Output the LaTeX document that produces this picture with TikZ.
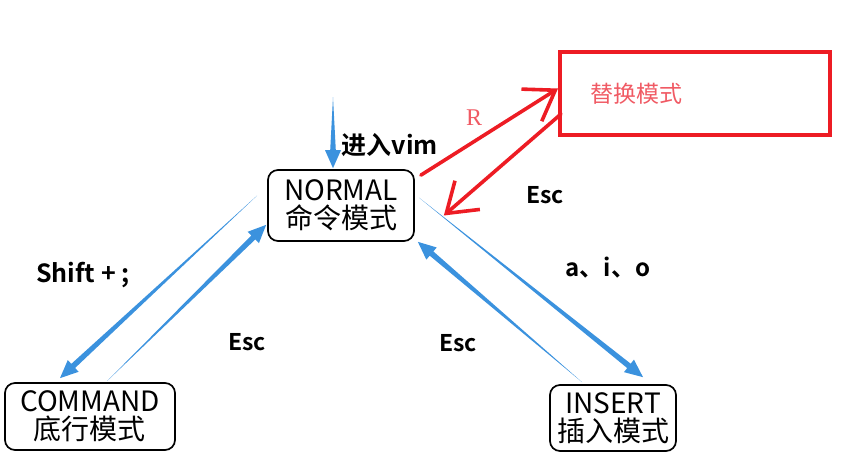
\documentclass[tikz,border=0pt]{standalone}
\usepackage{fontspec}
\setmainfont{Noto Sans CJK SC}[BoldFont={Noto Sans CJK SC Bold}]
\newfontfamily\keyfont{Liberation Serif}
\usepackage{xcolor}
\usetikzlibrary{arrows.meta,positioning,calc}
\tikzset{>=Stealth}
\definecolor{vimblue}{RGB}{59,146,222}
\definecolor{vimred}{RGB}{237,28,36}
\definecolor{softred}{RGB}{240,90,100}

\begin{document}
\begin{tikzpicture}[
    x=1pt, y=-1pt,
    mode/.style={rectangle, draw, line width=1.7pt, rounded corners=10pt,
        align=center, inner sep=2pt, font=\fontsize{28}{28}\selectfont},
    replacebox/.style={rectangle, draw=vimred, line width=4pt, align=left,
        text width=210pt, inner xsep=30pt, minimum width=270pt,
        minimum height=83pt, text=softred, font=\fontsize{23}{25}\selectfont},
    keylabel/.style={font=\fontsize{23}{24}\selectfont\bfseries, inner sep=1pt},
    taper/.style={to path={
        -- ($(\tikztotarget)!18pt!(\tikztostart)!2.8pt!90:(\tikztotarget)$)
        -- ($(\tikztotarget)!18pt!(\tikztostart)!8pt!90:(\tikztotarget)$)
        -- (\tikztotarget)
        -- ($(\tikztotarget)!18pt!(\tikztostart)!8pt!-90:(\tikztotarget)$)
        -- ($(\tikztotarget)!18pt!(\tikztostart)!2.8pt!-90:(\tikztotarget)$)
        -- cycle}},
    redarrow/.style={draw=vimred, line width=3.6pt, line cap=round,
        -{Straight Barb[length=28pt, width=38pt, line width=3.6pt]}}
]
    \useasboundingbox (0,0) rectangle (852,469);

    \node[mode, minimum width=146pt, minimum height=71pt] (normal) at (341,205.5) {NORMAL\\命令模式};
    \node[mode, minimum width=170pt, minimum height=67pt] (command) at (90,416.5) {COMMAND\\底行模式};
    \node[mode, minimum width=126pt, minimum height=66pt] (insert) at (613,418) {INSERT\\插入模式};
    \node[replacebox] (replace) at (695,93.5) {替换模式};

    \node[keylabel, font=\fontsize{25}{26}\selectfont\bfseries] (vimkey) at (390,145) {进入vim};
    \node[keylabel, font=\fontsize{25}{26}\selectfont\bfseries] (shiftkey) at (83,275) {Shift + ;};
    \node[keylabel] (esccmd) at (247,342) {Esc};
    \node[keylabel] (escins) at (458,343) {Esc};
    \node[keylabel, font=\fontsize{24}{26}\selectfont\bfseries] (insertkey) at (608,268) {a、i、o};
    \node[keylabel] (escrep) at (545,195) {Esc};
    \node[text=softred, font=\fontsize{24}{26}\selectfont\keyfont] (rkey) at (474,118) {R};

    \coordinate (vimtail) at ([xshift=-8pt,yshift=72pt]normal.north);
    \coordinate (vimtip) at ([xshift=-8pt,yshift=1pt]normal.north);
    \coordinate (nctail) at ([xshift=-10pt,yshift=10pt]normal.west);
    \coordinate (nctip) at ([xshift=-30pt,yshift=4pt]command.north);
    \coordinate (cntail) at ([xshift=17pt,yshift=1pt]command.north);
    \coordinate (cntip) at ([xshift=-1pt,yshift=17pt]normal.south west);
    \coordinate (nitail) at ([xshift=4pt,yshift=8pt]normal.east);
    \coordinate (nitip) at ([xshift=30pt,yshift=7pt]insert.north);
    \coordinate (intail) at ([xshift=-31pt,yshift=2pt]insert.north);
    \coordinate (intip) at ([xshift=3pt]normal.south east);

    \fill[vimblue] (vimtail) to[taper] (vimtip);
    \fill[vimblue] (nctail) to[taper] (nctip);
    \fill[vimblue] (cntail) to[taper] (cntip);
    \fill[vimblue] (nitail) to[taper] (nitip);
    \fill[vimblue] (intail) to[taper] (intip);

    \draw[redarrow] ([xshift=6pt,yshift=-6pt]normal.north east) -- ([yshift=5pt]replace.west);
    \draw[redarrow] ([xshift=3pt,yshift=23pt]replace.south west) -- ([xshift=29pt,yshift=-10pt]normal.east);
\end{tikzpicture}
\end{document}
